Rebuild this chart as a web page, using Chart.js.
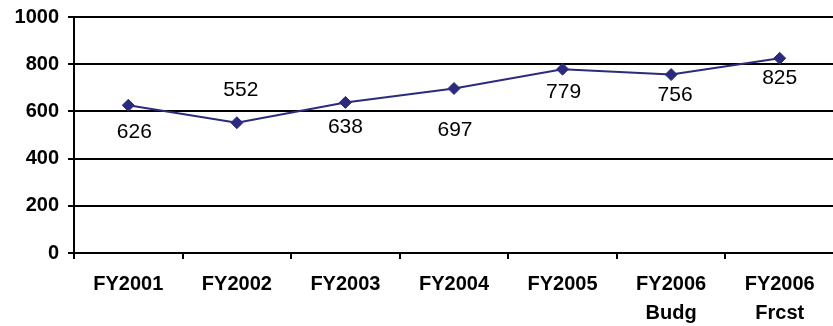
<!DOCTYPE html>
<html>
<head>
<meta charset="utf-8">
<script src="https://cdn.jsdelivr.net/npm/chart.js@4/dist/chart.umd.min.js"></script>
<style>
  html, body { margin: 0; padding: 0; background: #fff; overflow: hidden; }
  #wrap { width: 833px; height: 326px; overflow: hidden; }
  canvas { display: block; }
</style>
</head>
<body>
<div id="wrap"><canvas id="c" width="841" height="326"></canvas></div>
<script>
// Fiscal-year totals, budget vs forecast for FY2006
const categories = [['FY2001'], ['FY2002'], ['FY2003'], ['FY2004'], ['FY2005'], ['FY2006', 'Budg'], ['FY2006', 'Frcst']];
const totals = [626, 552, 638, 697, 779, 756, 825];
const yTicks = [0, 200, 400, 600, 800, 1000];

// Where each value label sits relative to its point (px)
const labelOffsets = [[6, 27], [4, -33], [0, 25], [1, 42], [1, 23], [4, 21], [0, 20]];

const navy = '#2b2b7d';

const valueLabels = {
  id: 'valueLabels',
  afterDatasetsDraw(chart) {
    const ctx = chart.ctx;
    const meta = chart.getDatasetMeta(0);
    ctx.save();
    ctx.font = '21px "Liberation Sans", Arial, sans-serif';
    ctx.fillStyle = '#000';
    ctx.textAlign = 'center';
    ctx.textBaseline = 'middle';
    meta.data.forEach((pt, i) => {
      const off = labelOffsets[i];
      ctx.fillText(String(totals[i]), pt.x + off[0], pt.y + off[1]);
    });
    ctx.restore();
  }
};

new Chart(document.getElementById('c'), {
  type: 'line',
  data: {
    labels: categories,
    datasets: [{
      data: totals,
      borderColor: navy,
      borderWidth: 2,
      pointStyle: 'rectRot',
      pointRadius: 6,
      pointBorderWidth: 1,
      pointBackgroundColor: navy,
      pointBorderColor: navy,
      tension: 0,
      fill: false
    }]
  },
  options: {
    responsive: false,
    animation: false,
    layout: { padding: { top: 17, right: 0, bottom: 0, left: 0 } },
    plugins: { legend: { display: false }, tooltip: { enabled: false } },
    scales: {
      x: {
        offset: true,
        grid: { display: true, offset: true, drawOnChartArea: false, drawTicks: true, tickLength: 6, color: '#000', lineWidth: 2 },
        border: { display: true, color: '#000', width: 2 },
        ticks: {
          color: '#000',
          padding: 11,
          maxRotation: 0,
          autoSkip: false,
          font: { family: '"Liberation Sans", Arial, sans-serif', size: 20, weight: 'bold', lineHeight: 1.45 }
        },
        afterFit(scale) { scale.height = 73; }
      },
      y: {
        min: 0,
        max: 1000,
        afterBuildTicks(scale) { scale.ticks = yTicks.map(v => ({ value: v })); },
        grid: { color: '#000', lineWidth: 2, drawTicks: true, tickLength: 6 },
        border: { display: true, color: '#000', width: 2 },
        ticks: {
          color: '#000',
          padding: 9,
          callback: (v) => String(v),
          font: { family: '"Liberation Sans", Arial, sans-serif', size: 20, weight: 'bold', lineHeight: 0.8 }
        },
        afterFit(scale) { scale.width = 74; }
      }
    }
  },
  plugins: [valueLabels]
});
</script>
</body>
</html>
